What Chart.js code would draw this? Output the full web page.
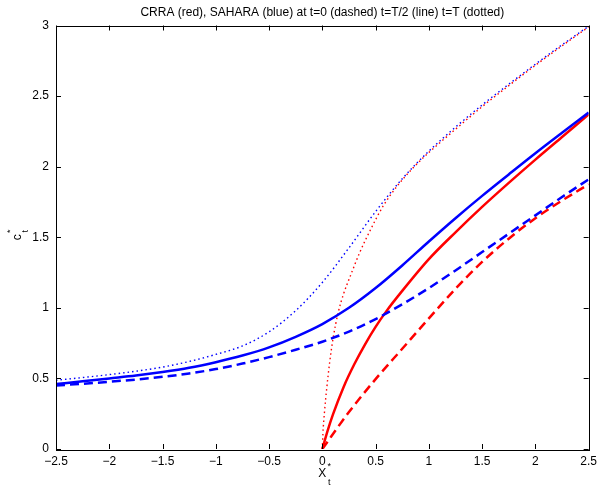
<!DOCTYPE html>
<html>
<head>
<meta charset="utf-8">
<script src="https://cdn.jsdelivr.net/npm/chart.js@4/dist/chart.umd.min.js"></script>
<style>
  html, body { margin: 0; padding: 0; background: #fff; }
  #wrap { width: 602px; height: 489px; }
</style>
</head>
<body>
<div id="wrap"><canvas id="myChart" width="602" height="489"></canvas></div>
<script>
// SAHARA (blue) curves share one x grid
const xBlue = [-2.5, -2.25, -2, -1.75, -1.5, -1.25, -1, -0.75, -0.5, -0.25, 0,
  0.25, 0.5, 0.75, 1, 1.25, 1.5, 1.75, 2, 2.25, 2.5];
const sahT0 = [0.45, 0.462, 0.476, 0.492, 0.511, 0.535, 0.566, 0.605, 0.651, 0.703, 0.76,
  0.832, 0.92, 1.025, 1.14, 1.265, 1.395, 1.525, 1.655, 1.785, 1.91];
const sahHalf = [0.46, 0.48, 0.50, 0.52, 0.545, 0.575, 0.615, 0.662, 0.72, 0.795, 0.885,
  1.0, 1.14, 1.30, 1.47, 1.635, 1.793, 1.945, 2.095, 2.24, 2.383];
const sahEnd = [0.487, 0.506, 0.527, 0.551, 0.58, 0.62, 0.67, 0.73, 0.83, 0.98, 1.18,
  1.425, 1.682, 1.914, 2.11, 2.28, 2.437, 2.584, 2.726, 2.863, 2.995];

// CRRA (red) curves, defined for X >= 0
const xRedT0 = [0, 0.25, 0.5, 0.75, 1, 1.25, 1.5, 1.75, 2, 2.25, 2.5];
const crraT0 = [0, 0.262, 0.495, 0.71, 0.925, 1.135, 1.325, 1.49, 1.635, 1.76, 1.875];
const xRedHalf = [0, 0.05, 0.1, 0.2, 0.3, 0.4, 0.5, 0.6, 0.75, 1, 1.25, 1.5, 1.75, 2, 2.25, 2.5];
const crraHalf = [0, 0.13, 0.245, 0.44, 0.6, 0.74, 0.865, 0.975, 1.12, 1.345, 1.535, 1.715, 1.885, 2.05, 2.21, 2.37];
const xRedEnd = [0, 0.005, 0.02, 0.04, 0.07, 0.1, 0.15, 0.2, 0.26, 0.35, 0.45, 0.57, 0.7, 0.85, 1,
  1.25, 1.5, 1.75, 2, 2.25, 2.5];
const crraEnd = [0, 0.1, 0.26, 0.42, 0.62, 0.78, 0.97, 1.1, 1.22, 1.39, 1.55, 1.72, 1.86, 1.99, 2.1,
  2.265, 2.425, 2.574, 2.718, 2.856, 2.99];

const xTicks = [-2.5, -2, -1.5, -1, -0.5, 0, 0.5, 1, 1.5, 2, 2.5];
const yTicks = [0, 0.5, 1, 1.5, 2, 2.5, 3];

const titleText = "CRRA (red), SAHARA (blue) at t=0 (dashed) t=T/2 (line) t=T (dotted)";

const pts = (xs, ys) => xs.map((x, i) => ({ x: x, y: ys[i] }));
const BLUE = "#0000ff";
const RED = "#ff0000";
const FONT = "'Liberation Sans', Arial, Helvetica, sans-serif";

function line(xs, ys, color, style) {
  const ds = {
    data: pts(xs, ys),
    borderColor: color,
    backgroundColor: color,
    pointRadius: 0,
    fill: false,
    cubicInterpolationMode: "monotone",
    borderWidth: 2.5,
  };
  if (style === "dash") ds.borderDash = [9, 5];
  if (style === "dot") { ds.borderWidth = 1.4; ds.borderDash = [1.5, 3]; }
  return ds;
}

// frame, inward ticks, title and axis labels in the MATLAB look
const matlabAxes = {
  id: "matlabAxes",
  afterDatasetsDraw(chart) {
    const ctx = chart.ctx;
    const a = chart.chartArea;
    const xs = chart.scales.x, ys = chart.scales.y;
    ctx.save();
    ctx.strokeStyle = "#000";
    ctx.lineWidth = 1;
    ctx.beginPath();
    xTicks.forEach(v => {
      const px = Math.round(xs.getPixelForValue(v)) + 0.5;
      ctx.moveTo(px, a.bottom); ctx.lineTo(px, a.bottom - 5);
      ctx.moveTo(px, a.top); ctx.lineTo(px, a.top + 5);
    });
    yTicks.forEach(v => {
      const py = Math.round(ys.getPixelForValue(v)) + 0.5;
      ctx.moveTo(a.left, py); ctx.lineTo(a.left + 5, py);
      ctx.moveTo(a.right, py); ctx.lineTo(a.right - 5, py);
    });
    ctx.stroke();
    ctx.strokeRect(Math.round(a.left) + 0.5, Math.round(a.top) + 0.5,
      Math.round(a.right - a.left), Math.round(a.bottom - a.top));

    ctx.fillStyle = "#000";
    ctx.font = "12px " + FONT;
    ctx.textAlign = "center";
    ctx.textBaseline = "middle";
    const cx = (a.left + a.right) / 2;
    ctx.fillText(titleText, cx, 13);

    // x label: X with * superscript and t subscript
    ctx.font = "12px " + FONT;
    ctx.fillText("X", cx, 474);
    ctx.font = "9px " + FONT;
    ctx.fillText("*", cx + 7, 467);
    ctx.fillText("t", cx + 7, 483);

    // y label, rotated
    ctx.translate(18, (a.top + a.bottom) / 2);
    ctx.rotate(-Math.PI / 2);
    ctx.font = "12px " + FONT;
    ctx.fillText("c", 0, 0);
    ctx.font = "9px " + FONT;
    ctx.fillText("*", 6, -7);
    ctx.fillText("t", 6, 8);
    ctx.restore();
  }
};

const config = {
  type: "line",
  data: {
    datasets: [
      line(xBlue, sahT0, BLUE, "dash"),
      line(xBlue, sahHalf, BLUE, "solid"),
      line(xBlue, sahEnd, BLUE, "dot"),
      line(xRedT0, crraT0, RED, "dash"),
      line(xRedHalf, crraHalf, RED, "solid"),
      line(xRedEnd, crraEnd, RED, "dot"),
    ],
  },
  options: {
    responsive: false,
    animation: false,
    devicePixelRatio: 1,
    layout: { padding: { left: 0, right: 11, top: 25.5, bottom: 0 } },
    plugins: { legend: { display: false }, tooltip: { enabled: false }, title: { display: false } },
    scales: {
      x: {
        type: "linear",
        min: -2.5,
        max: 2.5,
        afterFit: s => { s.height = 40; },
        afterBuildTicks: s => { s.ticks = xTicks.map(v => ({ value: v })); },
        grid: { display: false, drawTicks: false },
        border: { display: false },
        ticks: {
          padding: 5,
          color: "#000",
          font: { family: FONT, size: 12 },
          maxRotation: 0,
          callback: v => String(v).replace("-", "\u2212"),
        },
      },
      y: {
        type: "linear",
        min: 0,
        max: 3,
        afterFit: s => { s.width = 56; },
        afterBuildTicks: s => { s.ticks = yTicks.map(v => ({ value: v })); },
        grid: { display: false, drawTicks: false },
        border: { display: false },
        ticks: {
          padding: 7,
          color: "#000",
          font: { family: FONT, size: 12 },
          callback: v => String(v),
        },
      },
    },
  },
  plugins: [matlabAxes],
};

new Chart(document.getElementById("myChart").getContext("2d"), config);
</script>
</body>
</html>
